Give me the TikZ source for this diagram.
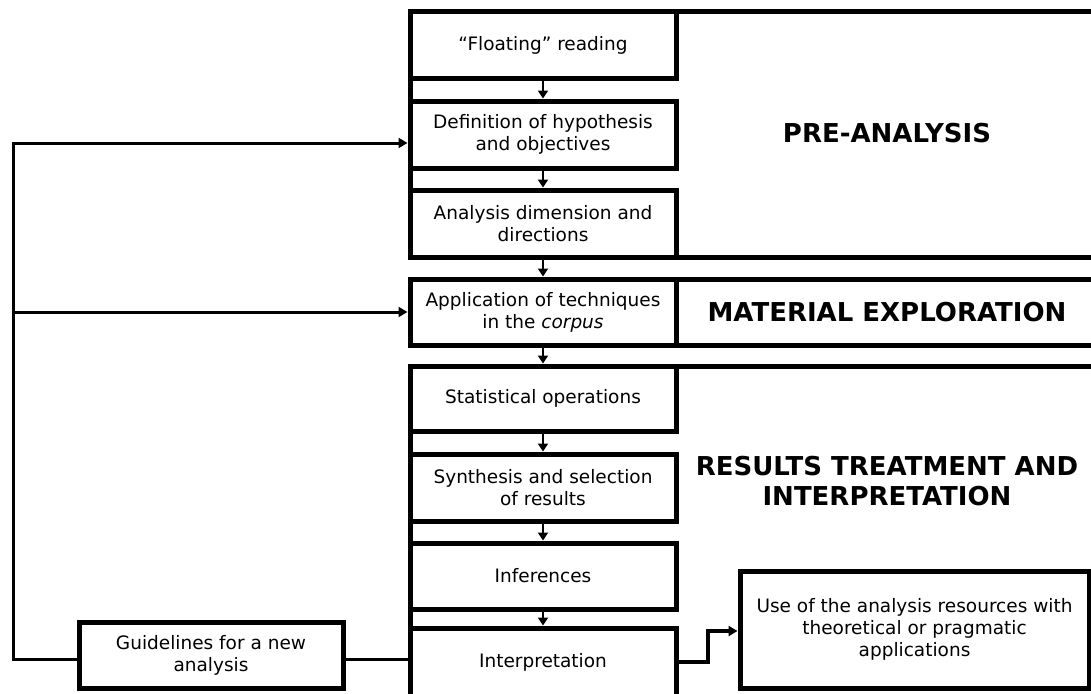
\documentclass[tikz,border=0pt]{standalone}
\usepackage{fontspec}
\setmainfont{DejaVu Sans}
\usetikzlibrary{arrows.meta}
\newcommand\bxfont{\fontsize{18.5}{22}\selectfont}
\newcommand\lbfont{\fontsize{26}{30}\selectfont\bfseries}
\begin{document}
\begin{tikzpicture}[x=1pt,y=-1pt,
  box/.style={draw,line width=5pt,minimum width=266pt,minimum height=66pt,align=center,font=\bxfont,inner sep=2pt},
  frame/.style={line width=5pt},
  flow/.style={line width=2pt,-{Triangle[length=8pt,width=10pt]}},
  fb/.style={line width=3pt},
  fbarrow/.style={line width=3pt,-{Triangle[length=9pt,width=10pt]}},
  lab/.style={font=\lbfont,align=center}]
\useasboundingbox (0,0) rectangle (1091,693);
\fill[white] (0,0) rectangle (1091,693);
% section frames
\draw[frame] (1096,12) -- (410,12) -- (410,257) -- (1096,257);
\draw[frame] (1096,279) -- (410,279) -- (410,345) -- (1096,345);
\draw[frame] (1096,366) -- (410,366) -- (410,705);
% step boxes
\node[box] (float) at (543,45) {“Floating” reading};
\node[box,minimum height=67pt] (defn) at (543,134.5) {Definition of hypothesis\\and objectives};
\node[box,minimum height=67pt] (dims) at (543,223.5) {Analysis dimension and\\directions};
\node[box] (appl) at (543,312) {Application of techniques\\in the \textit{corpus}};
\node[box,minimum height=65pt] (stat) at (543,398.5) {Statistical operations};
\node[box,minimum height=67pt] (synt) at (543,487.5) {Synthesis and selection\\of results};
\node[box] (infer) at (543,576) {Inferences};
\node[box,minimum height=68pt] (interp) at (543,662) {Interpretation};
\node[box,minimum width=264pt] (guide) at (211,655) {Guidelines for a new\\analysis};
\node[box,minimum width=349pt,minimum height=117pt] (use) at (914.5,629.5) {Use of the analysis resources with\\theoretical or pragmatic\\applications};
% section labels
\node[lab] (pre) at (887,133) {PRE-ANALYSIS};
\node[lab] (mat) at (887,312) {MATERIAL EXPLORATION};
\node[lab] (res) at (887,481) {RESULTS TREATMENT AND\\INTERPRETATION};
% flow arrows
\draw[flow] (float.south) -- (defn.north);
\draw[flow] (defn.south) -- (dims.north);
\draw[flow] (dims.south) -- (appl.north);
\draw[flow] (appl.south) -- (stat.north);
\draw[flow] (stat.south) -- (synt.north);
\draw[flow] (synt.south) -- (infer.north);
\draw[flow] (infer.south) -- (interp.north);
% feedback loop
\coordinate (fbc) at (13,659);
\coordinate (fbtop) at (13,143);
\draw[fb] (interp.west |- fbc) -- (guide.east |- fbc);
\draw[fbarrow] (guide.west |- fbc) -- (fbc) -- (fbtop) -- (defn.west |- fbtop);
\draw[fbarrow] (fbc |- appl.west) -- (appl.west);
% to use box
\coordinate (elb) at (708,631);
\draw[line width=3.5pt,-{Triangle[length=9pt,width=10pt]}] (interp.east) -| (elb) -- (use.west |- elb);
\end{tikzpicture}
\end{document}
